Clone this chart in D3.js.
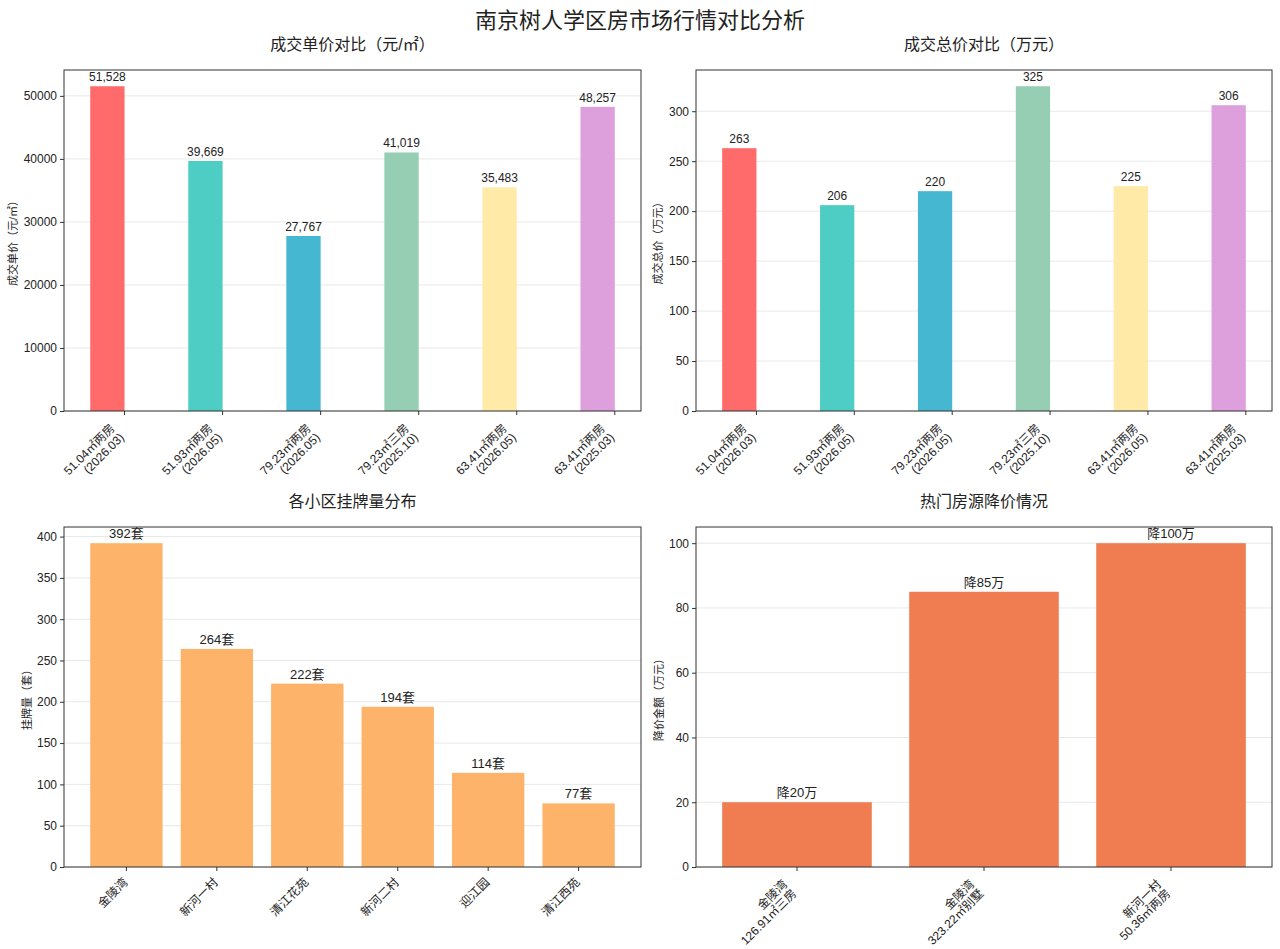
<!DOCTYPE html>
<html>
<head>
<meta charset="utf-8">
<script src="https://cdn.jsdelivr.net/npm/d3@7"></script>
<style>
	body { margin: 0; background: #fff; }
	svg text { font-family: "Liberation Sans", "Noto Sans CJK SC", sans-serif; fill: #222; }
	.grid line { stroke: #e8e8e8; }
	.axis path, .axis line { stroke: #333; }
</style>
</head>
<body>
<svg id="chart" width="1280" height="949"></svg>
<script>
// Data
const dealTypes = ['51.04㎡两房', '51.93㎡两房', '79.23㎡两房', '79.23㎡三房', '63.41㎡两房', '63.41㎡两房'];
const dealDates = ['(2026.03)', '(2026.05)', '(2026.05)', '(2025.10)', '(2026.05)', '(2025.03)'];
const dealColors = ['#FF6B6B', '#4ECDC4', '#45B7D1', '#96CEB4', '#FFEAA7', '#DDA0DD'];
const unitPrices = [51528, 39669, 27767, 41019, 35483, 48257];
const totalPrices = [263, 206, 220, 325, 225, 306];

const communities = ['金陵湾', '新河一村', '清江花苑', '新河二村', '迎江园', '清江西苑'];
const listings = [392, 264, 222, 194, 114, 77];

const dropNames = ['金陵湾', '金陵湾', '新河一村'];
const dropHouses = ['126.91㎡三房', '323.22㎡别墅', '50.36㎡两房'];
const dropAmounts = [20, 85, 100];

const unitTicks = [0, 10000, 20000, 30000, 40000, 50000];
const totalTicks = [0, 50, 100, 150, 200, 250, 300];
const listingTicks = [0, 50, 100, 150, 200, 250, 300, 350, 400];
const dropTicks = [0, 20, 40, 60, 80, 100];

const svg = d3.select('#chart');

svg.append('text')
	.attr('x', 640).attr('y', 28)
	.attr('text-anchor', 'middle')
	.style('font-size', '22px')
	.text('南京树人学区房市场行情对比分析');

/**
 * Draw one bar panel. Bars go from (i + offset) to (i + offset + width) in category units.
 */
function drawPanel(o) {
	const g = svg.append('g');
	const x = d3.scaleLinear().domain(o.xDomain).range([o.left, o.right]);
	const y = d3.scaleLinear().domain([0, d3.max(o.values) * 1.05]).range([o.bottom, o.top]);

	// title
	g.append('text')
		.attr('x', (o.left + o.right) / 2).attr('y', o.top - 20)
		.attr('text-anchor', 'middle')
		.style('font-size', '16px')
		.text(o.title);

	// grid
	g.append('g').attr('class', 'grid')
		.selectAll('line').data(o.ticks).enter().append('line')
		.attr('x1', o.left).attr('x2', o.right)
		.attr('y1', d => y(d)).attr('y2', d => y(d));

	// bars
	g.selectAll('rect.bar')
		.data(o.values)
		.enter()
		.append('rect')
		.attr('class', 'bar')
		.attr('x', (d, i) => x(i + o.offset))
		.attr('width', (d, i) => x(i + o.offset + o.width) - x(i + o.offset))
		.attr('y', d => y(d))
		.attr('height', d => o.bottom - y(d))
		.attr('fill', (d, i) => o.colors[i % o.colors.length]);

	// value labels
	g.selectAll('text.val')
		.data(o.values)
		.enter()
		.append('text')
		.attr('class', 'val')
		.attr('x', (d, i) => x(i + o.offset + o.width / 2))
		.attr('y', d => y(d) - 5)
		.attr('text-anchor', 'middle')
		.style('font-size', o.valueSize + 'px')
		.text(o.format);

	// y axis
	g.append('g').attr('class', 'axis')
		.attr('transform', `translate(${o.left},0)`)
		.call(d3.axisLeft(y).tickValues(o.ticks).tickSize(4).tickFormat(d3.format('d')))
		.call(a => a.select('.domain').remove())
		.selectAll('text').style('font-size', '12px').attr('fill', '#222');

	// x ticks
	const xt = g.append('g').attr('class', 'axis');
	o.values.forEach((d, i) => {
		xt.append('line')
			.attr('x1', x(i)).attr('x2', x(i))
			.attr('y1', o.bottom).attr('y2', o.bottom + 4);
	});

	// x tick labels, rotated
	o.labels.forEach((lines, i) => {
		const t = g.append('text')
			.attr('transform', `translate(${x(i) + o.labelDx},${o.bottom + o.labelDy}) rotate(-45)`)
			.attr('text-anchor', 'end')
			.style('font-size', '12px');
		lines.forEach((s, k) => {
			t.append('tspan').attr('x', 0).attr('y', k * 13).text(s);
		});
	});

	// frame
	g.append('rect')
		.attr('x', o.left).attr('y', o.top)
		.attr('width', o.right - o.left).attr('height', o.bottom - o.top)
		.attr('fill', 'none').attr('stroke', '#333');

	// y label
	g.append('text')
		.attr('transform', `translate(${o.yLabelX},${(o.top + o.bottom) / 2}) rotate(-90)`)
		.attr('text-anchor', 'middle')
		.style('font-size', '11px')
		.text(o.yLabel);
}

const twoLine = dealTypes.map((t, i) => [t, dealDates[i]]);
const topDomain = [-0.35 - 0.2675, 5 + 0.2675];

drawPanel({
	title: '成交单价对比（元/㎡）', yLabel: '成交单价（元/㎡）', yLabelX: 17,
	left: 64, right: 641, top: 70, bottom: 411,
	values: unitPrices, ticks: unitTicks, colors: dealColors,
	xDomain: topDomain, offset: -0.35, width: 0.35,
	labels: twoLine, labelDx: -9, labelDy: 18,
	valueSize: 12, format: d3.format(',')
});

drawPanel({
	title: '成交总价对比（万元）', yLabel: '成交总价（万元）', yLabelX: 662,
	left: 696, right: 1272, top: 70, bottom: 411,
	values: totalPrices, ticks: totalTicks, colors: dealColors,
	xDomain: topDomain, offset: -0.35, width: 0.35,
	labels: twoLine, labelDx: -9, labelDy: 18,
	valueSize: 12, format: d => d
});

drawPanel({
	title: '各小区挂牌量分布', yLabel: '挂牌量（套）', yLabelX: 31,
	left: 64, right: 641, top: 527, bottom: 867,
	values: listings, ticks: listingTicks, colors: ['#FDB36A'],
	xDomain: [-0.69, 5.69], offset: -0.4, width: 0.8,
	labels: communities.map(c => [c]), labelDx: 2, labelDy: 16,
	valueSize: 13, format: d => d + '套'
});

drawPanel({
	title: '热门房源降价情况', yLabel: '降价金额（万元）', yLabelX: 663,
	left: 696, right: 1272, top: 527, bottom: 867,
	values: dropAmounts, ticks: dropTicks, colors: ['#F07D52'],
	xDomain: [-0.54, 2.54], offset: -0.4, width: 0.8,
	labels: dropNames.map((n, i) => [n, dropHouses[i]]), labelDx: -9, labelDy: 18,
	valueSize: 13, format: d => '降' + d + '万'
});
</script>
</body>
</html>
